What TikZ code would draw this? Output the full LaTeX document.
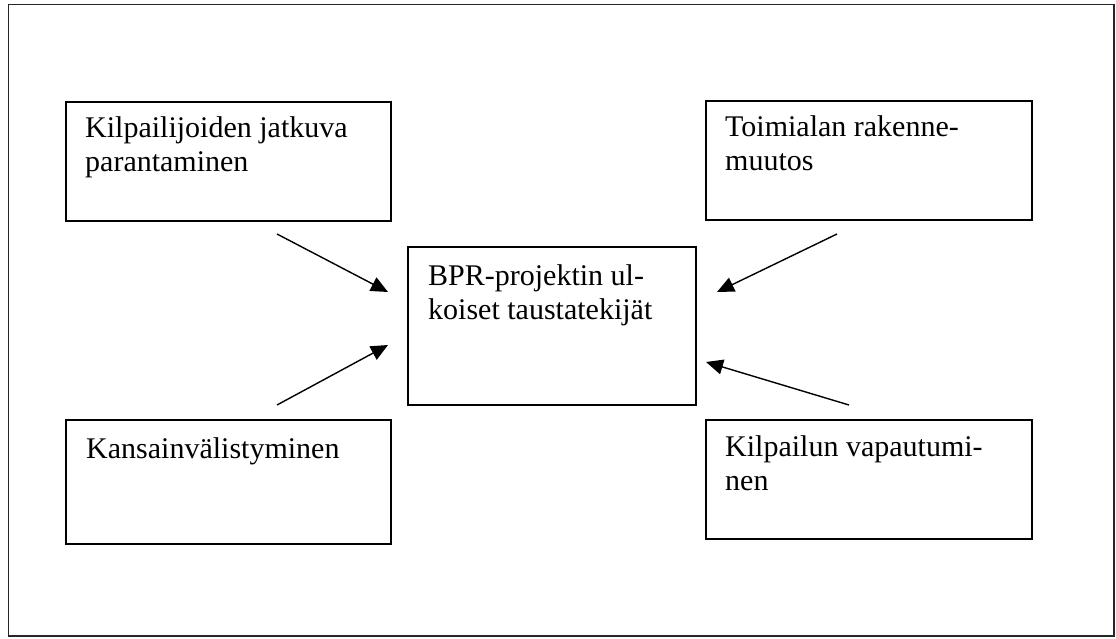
\documentclass[tikz,border=0pt]{standalone}
\usepackage{fontspec}
\setmainfont{Liberation Serif}
\usetikzlibrary{arrows.meta}
\newcommand{\stacklines}[1]{\begin{tabular}[t]{@{}l@{}}#1\end{tabular}}
\begin{document}
\begin{tikzpicture}[x=1pt,y=-1pt,
  box/.style={draw=black, line width=1.6pt, anchor=north west, inner sep=0pt},
  lbl/.style={anchor=base west, inner sep=0pt,
    font=\fontsize{30}{34}\selectfont},
  arr/.style={line width=1.4pt, -{Triangle[length=17pt,width=15pt]}}]
\useasboundingbox (0,0) rectangle (1116,639);
% outer frame
\draw[line width=1.8pt, black!85] (8.5,4.5) rectangle (1114,636);

% boxes
\node[box, minimum width=325pt, minimum height=119pt] (tl) at (65,101) {};
\node[box, minimum width=326pt, minimum height=119pt] (tr) at (705,100) {};
\node[box, minimum width=288pt, minimum height=158pt] (c) at (407,246) {};
\node[box, minimum width=325pt, minimum height=124pt] (bl) at (65,419) {};
\node[box, minimum width=326pt, minimum height=119pt] (br) at (705,419) {};

% texts (baseline of the first line placed below each box's top edge)
\node[lbl] (tlt) at ([xshift=20pt,yshift=-37pt]tl.north west) {\stacklines{Kilpailijoiden jatkuva\\parantaminen}};
\node[lbl] (trt) at ([xshift=20pt,yshift=-37pt]tr.north west) {\stacklines{Toimialan rakenne-\\muutos}};
\node[lbl] (ct) at ([xshift=21pt,yshift=-39pt]c.north west) {\stacklines{BPR-projektin ul-\\koiset taustatekijät}};
\node[lbl] (blt) at ([xshift=21pt,yshift=-39pt]bl.north west) {Kansainvälistyminen};
\node[lbl] (brt) at ([xshift=20pt,yshift=-37pt]br.north west) {\stacklines{Kilpailun vapautumi-\\nen}};

% arrow ends
\coordinate (a1s) at (277,234);
\coordinate (a1e) at (388,292);
\coordinate (a2s) at (277,405);
\coordinate (a2e) at (388,345);
\coordinate (a3s) at (837,234);
\coordinate (a3e) at (717,292);
\coordinate (a4s) at (849,405);
\coordinate (a4e) at (706,362);

\draw[arr] (a1s) -- (a1e);
\draw[arr] (a2s) -- (a2e);
\draw[arr] (a3s) -- (a3e);
\draw[arr] (a4s) -- (a4e);
\end{tikzpicture}
\end{document}
